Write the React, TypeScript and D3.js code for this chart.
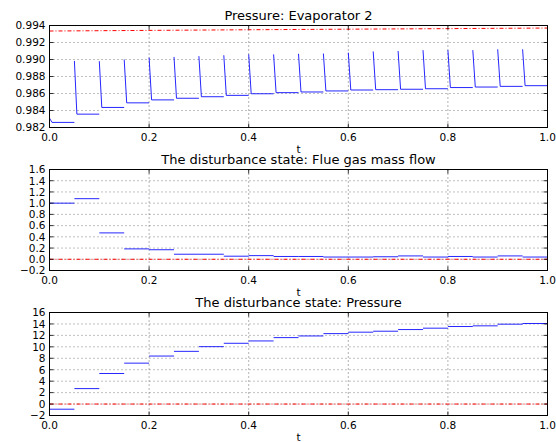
import React from "react";
import * as d3 from "d3";

// ---- data ----
const segStarts = [0, 0.05, 0.1, 0.15, 0.2, 0.25, 0.3, 0.35, 0.4, 0.45, 0.5, 0.55, 0.6, 0.65, 0.7, 0.75, 0.8, 0.85, 0.9, 0.95];
const SEG_LEN = 0.05;
const DECAY_T = 0.005;

const evapSpike = [0.9831, 0.98983, 0.9898, 0.99, 0.99022, 0.9903, 0.99039, 0.9905, 0.9906, 0.9906, 0.99067, 0.9907, 0.9908, 0.99095, 0.991, 0.9911, 0.9911, 0.9911, 0.9912, 0.9912];
const evapPlateau = [0.9826, 0.98357, 0.98436, 0.9849, 0.98525, 0.98544, 0.98562, 0.98578, 0.98597, 0.9861, 0.98618, 0.9863, 0.98641, 0.98645, 0.9865, 0.98656, 0.9867, 0.98676, 0.98684, 0.98692];
const evapRefT = [0, 0.4, 1];
const evapRef = [0.99335, 0.9935, 0.9937];

const flueGas = [1.0, 1.08, 0.47, 0.185, 0.17, 0.09, 0.09, 0.055, 0.065, 0.05, 0.05, 0.04, 0.04, 0.045, 0.06, 0.04, 0.05, 0.04, 0.06, 0.04];
const flueRef = [0, 0];

const pressure = [-0.9, 2.7, 5.34, 7.15, 8.39, 9.21, 10.03, 10.62, 11.03, 11.61, 11.9, 12.31, 12.56, 12.73, 13.02, 13.26, 13.55, 13.67, 13.96, 14.08];
const pressRef = [0, 0];
const refT = [0, 1];

const xTicks = [0, 0.2, 0.4, 0.6, 0.8, 1.0];
const evapTicks = [0.982, 0.984, 0.986, 0.988, 0.99, 0.992, 0.994];
const flueTicks = [-0.2, 0, 0.2, 0.4, 0.6, 0.8, 1.0, 1.2, 1.4, 1.6];
const pressTicks = [-2, 0, 2, 4, 6, 8, 10, 12, 14, 16];

const titles = [
  "Pressure: Evaporator 2",
  "The disturbance state: Flue gas mass flow",
  "The disturbance state: Pressure",
];

const FONT = "DejaVu Sans, sans-serif";
const BLUE = "#0000ff";
const RED = "#ff0000";

const X0 = 49.5;
const X1 = 547.5;

type Panel = {
  top: number;
  bottom: number;
  domain: [number, number];
  ticks: number[];
  fmt: (v: number) => string;
  title: string;
  segments: [number, number][][];
  ref: [number, number][];
};

const minus = (s: string) => s.replace("-", "\u2212");

const panels: Panel[] = [
  {
    top: 25.5,
    bottom: 127.5,
    domain: [0.982, 0.994],
    ticks: evapTicks,
    fmt: (v) => minus(d3.format(".3f")(v)),
    title: titles[0],
    segments: segStarts.map((t, i) => [
      [t, evapSpike[i]],
      [t + DECAY_T, evapPlateau[i]],
      [t + SEG_LEN, evapPlateau[i]],
    ]),
    ref: evapRefT.map((t, i) => [t, evapRef[i]]),
  },
  {
    top: 169.5,
    bottom: 270.5,
    domain: [-0.2, 1.6],
    ticks: flueTicks,
    fmt: (v) => minus(d3.format(".1f")(v)),
    title: titles[1],
    segments: segStarts.map((t, i) => [
      [t, flueGas[i]],
      [t + SEG_LEN, flueGas[i]],
    ]),
    ref: refT.map((t, i) => [t, flueRef[i]]),
  },
  {
    top: 312.5,
    bottom: 415.5,
    domain: [-2, 16],
    ticks: pressTicks,
    fmt: (v) => minus(d3.format("d")(v)),
    title: titles[2],
    segments: segStarts.map((t, i) => [
      [t, pressure[i]],
      [t + SEG_LEN, pressure[i]],
    ]),
    ref: refT.map((t, i) => [t, pressRef[i]]),
  },
];

function PanelView({ p }: { p: Panel }) {
  const x = d3.scaleLinear().domain([0, 1]).range([X0, X1]);
  const y = d3.scaleLinear().domain(p.domain).range([p.bottom, p.top]);
  const line = d3
    .line<[number, number]>()
    .x((d) => x(d[0]))
    .y((d) => y(d[1]));
  const clipId = `clip-${Math.round(p.top)}`;
  const tickLen = 4;
  return (
    <g>
      <defs>
        <clipPath id={clipId}>
          <rect x={X0} y={p.top} width={X1 - X0} height={p.bottom - p.top} />
        </clipPath>
      </defs>
      {/* grid */}
      {p.ticks.map((t, i) => (
        <line
          key={"gy" + i}
          x1={X0}
          x2={X1}
          y1={y(t)}
          y2={y(t)}
          stroke="#000"
          strokeWidth={0.5}
          strokeDasharray="1,3"
        />
      ))}
      {xTicks.map((t, i) => (
        <line
          key={"gx" + i}
          x1={x(t)}
          x2={x(t)}
          y1={p.top}
          y2={p.bottom}
          stroke="#000"
          strokeWidth={0.6}
          strokeDasharray="1,3"
        />
      ))}
      {/* data */}
      <g clipPath={`url(#${clipId})`}>
        {p.segments.map((s, i) => (
          <path key={"s" + i} d={line(s) || ""} fill="none" stroke={BLUE} strokeWidth={1} strokeOpacity={0.85} />
        ))}
        <path
          d={line(p.ref) || ""}
          fill="none"
          stroke={RED}
          strokeWidth={1}
          strokeDasharray="4,2,1,2"
        />
      </g>
      {/* ticks */}
      {p.ticks.map((t, i) => (
        <g key={"ty" + i}>
          <line x1={X0} x2={X0 + tickLen} y1={y(t)} y2={y(t)} stroke="#000" strokeWidth={0.8} />
          <line x1={X1} x2={X1 - tickLen} y1={y(t)} y2={y(t)} stroke="#000" strokeWidth={0.8} />
          <text
            x={X0 - 4}
            y={y(t)}
            dy="0.36em"
            textAnchor="end"
            fontFamily={FONT}
            fontSize={10.5}
            fill="#000"
          >
            {p.fmt(t)}
          </text>
        </g>
      ))}
      {xTicks.map((t, i) => (
        <g key={"tx" + i}>
          <line x1={x(t)} x2={x(t)} y1={p.bottom} y2={p.bottom - tickLen} stroke="#000" strokeWidth={0.8} />
          <line x1={x(t)} x2={x(t)} y1={p.top} y2={p.top + tickLen} stroke="#000" strokeWidth={0.8} />
          <text
            x={x(t)}
            y={p.bottom + 13}
            textAnchor="middle"
            fontFamily={FONT}
            fontSize={10.5}
            fill="#000"
          >
            {d3.format(".1f")(t)}
          </text>
        </g>
      ))}
      {/* frame */}
      <rect
        x={X0}
        y={p.top}
        width={X1 - X0}
        height={p.bottom - p.top}
        fill="none"
        stroke="#000"
        strokeWidth={1}
      />
      {/* title & x label */}
      <text
        x={(X0 + X1) / 2}
        y={p.top - 6}
        textAnchor="middle"
        fontFamily={FONT}
        fontSize={13}
        fill="#000"
      >
        {p.title}
      </text>
      <text
        x={(X0 + X1) / 2}
        y={p.bottom + 25}
        textAnchor="middle"
        fontFamily={FONT}
        fontSize={10.5}
        fill="#000"
      >
        t
      </text>
    </g>
  );
}

export default function App() {
  return (
    <svg
      width={556}
      height={442}
      style={{ position: "absolute", left: 0, top: 0, background: "#fff" }}
    >
      <rect x={0} y={0} width={556} height={442} fill="#fff" />
      {panels.map((p, i) => (
        <PanelView key={i} p={p} />
      ))}
    </svg>
  );
}
